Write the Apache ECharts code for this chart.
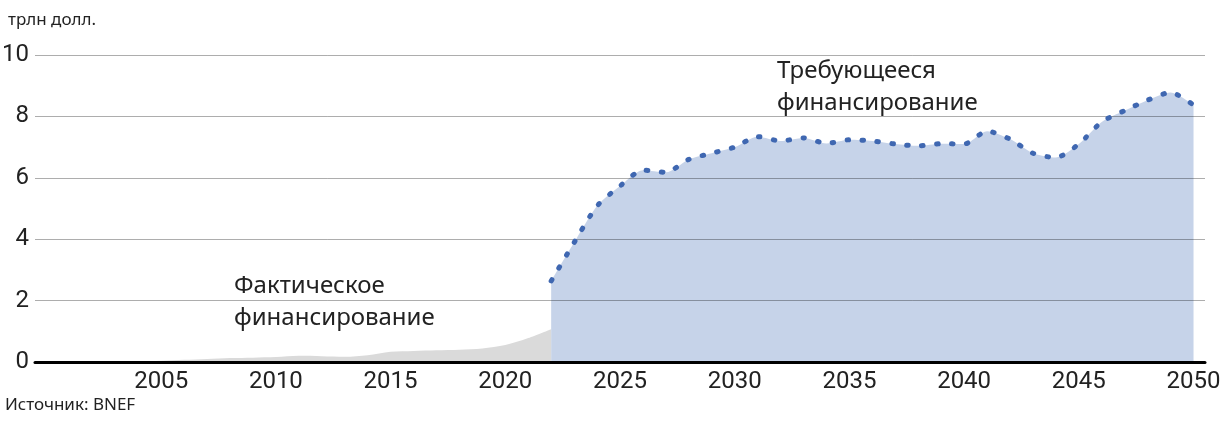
<!DOCTYPE html>
<html>
<head>
<meta charset="utf-8">
<script src="https://cdn.jsdelivr.net/npm/echarts@6/dist/echarts.min.js"></script>
<style>
  html, body { margin: 0; padding: 0; background: #fff; }
  #chart { width: 1224px; height: 422px; }
</style>
</head>
<body>
<div id="chart"></div>
<script>
// годы 2000–2050
var years = []
for (var y = 2000; y <= 2050; y++) years.push(String(y))

// фактическое финансирование, 2000–2022
var actual = [0, 0, 0, 0.01, 0.02, 0.04, 0.07, 0.1, 0.13, 0.14, 0.16, 0.2, 0.19, 0.17, 0.22,
  0.33, 0.36, 0.38, 0.4, 0.44, 0.55, 0.78, 1.07]

// требующееся финансирование, 2022–2050
var required = [2.64, 3.89, 5.08, 5.73, 6.25, 6.18, 6.6, 6.8, 7.0, 7.34, 7.2, 7.3, 7.12, 7.24,
  7.2, 7.1, 7.04, 7.11, 7.1, 7.52, 7.26, 6.8, 6.66, 7.1, 7.82, 8.19, 8.53, 8.78, 8.37]

var yTicks = [0, 2, 4, 6, 8, 10]

var numFont = "Roboto, 'Noto Sans', sans-serif"
var regular = "'Noto Sans', 'Open Sans', sans-serif"

// растягиваем ряды на всю ось лет
var actualData = years.map(function (y, i) { return i < actual.length ? actual[i] : '-' })
var reqStart = years.indexOf('2022')
var requiredData = years.map(function (y, i) { return i >= reqStart ? required[i - reqStart] : '-' })

var chart = echarts.init(document.getElementById('chart'))
chart.setOption({
  backgroundColor: '#fff',
  animation: false,
  grid: { left: 35, right: 19, top: 55, bottom: 60, outerBoundsMode: 'none' },
  xAxis: {
    type: 'category',
    data: years,
    boundaryGap: true,
    z: 6,
    axisLine: { lineStyle: { color: '#000', width: 3 } },
    axisTick: { show: false },
    axisLabel: {
      interval: function (i, v) { return Number(v) % 5 === 0 && v !== '2000' },
      color: '#222',
      fontFamily: numFont,
      fontSize: 24,
      margin: 8
    }
  },
  yAxis: {
    type: 'value',
    min: yTicks[0],
    max: yTicks[yTicks.length - 1],
    interval: 2,
    z: 4,
    axisLine: { show: false },
    axisTick: { show: false },
    splitLine: { lineStyle: { color: 'rgba(0,0,0,0.32)', width: 1 } },
    axisLabel: {
      color: '#222',
      fontFamily: numFont,
      fontSize: 24,
      margin: 6,
      formatter: function (v) { return yTicks.indexOf(v) >= 0 ? String(v) : '' }
    }
  },
  series: [
    {
      name: 'Фактическое финансирование',
      type: 'line',
      data: actualData,
      smooth: 0.3,
      symbol: 'none',
      z: 1,
      lineStyle: { width: 0 },
      areaStyle: { color: '#dadada', opacity: 1 }
    },
    {
      name: 'Требующееся финансирование (заливка)',
      type: 'line',
      data: requiredData,
      smooth: 0.25,
      symbol: 'none',
      z: 1,
      lineStyle: { width: 0 },
      areaStyle: { color: '#c6d3e9', opacity: 1 }
    },
    {
      name: 'Требующееся финансирование',
      type: 'line',
      data: requiredData,
      smooth: 0.25,
      symbol: 'none',
      z: 8,
      lineStyle: { color: '#3f67b1', width: 5, type: [1.5, 13.5], cap: 'round' }
    }
  ],
  graphic: [
    { type: 'text', left: 8, top: 12, style: { text: 'трлн долл.', font: '17px ' + regular, fill: '#222' } },
    { type: 'text', left: 5, top: 397, style: { text: 'Источник: BNEF', font: '17px ' + regular, fill: '#222' } },
    { type: 'text', left: 234, top: 270, style: { text: 'Фактическое\nфинансирование', font: '24px ' + regular, fill: '#222', lineHeight: 32 } },
    { type: 'text', left: 777, top: 55, style: { text: 'Требующееся\nфинансирование', font: '24px ' + regular, fill: '#222', lineHeight: 32 } }
  ]
})
</script>
</body>
</html>
